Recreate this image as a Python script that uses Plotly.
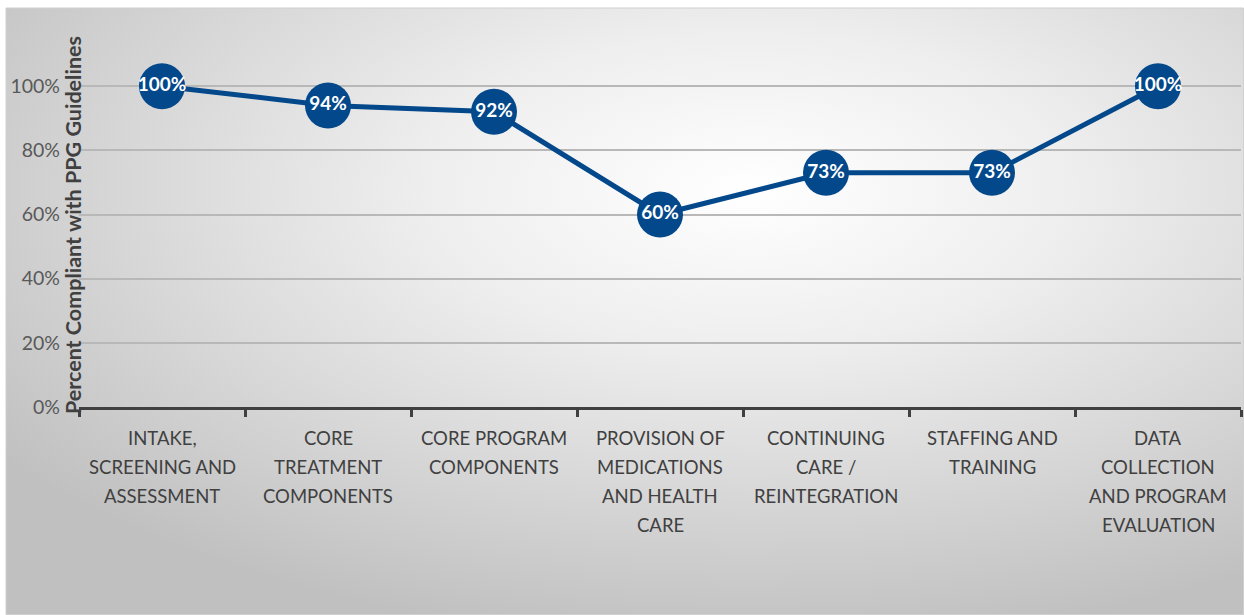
import plotly.graph_objects as go
import base64

categories = [
    "INTAKE,<br>SCREENING AND<br>ASSESSMENT",
    "CORE<br>TREATMENT<br>COMPONENTS",
    "CORE PROGRAM<br>COMPONENTS",
    "PROVISION OF<br>MEDICATIONS<br>AND HEALTH<br>CARE",
    "CONTINUING<br>CARE /<br>REINTEGRATION",
    "STAFFING AND<br>TRAINING",
    "DATA<br>COLLECTION<br>AND PROGRAM<br>EVALUATION",
]
values = [1.00, 0.94, 0.92, 0.60, 0.73, 0.73, 1.00]
value_labels = ["100%", "94%", "92%", "60%", "73%", "73%", "100%"]
y_tickvals = [0, 0.2, 0.4, 0.6, 0.8, 1.0]
y_ticktext = ["0%", "20%", "40%", "60%", "80%", "100%"]
y_title = "Percent Compliant with PPG Guidelines"

W, H = 1244, 615
L, R, T, B = 79, 3, 22, 208
pw, ph = W - L - R, H - T - B

BLUE = "#03488b"
TXT = "#404040"
FONT = "Lato"

svg = (
    '<svg xmlns="http://www.w3.org/2000/svg" width="1238" height="607" preserveAspectRatio="none" viewBox="0 0 1238 607">'
    '<defs><radialGradient id="g" cx="0.6" cy="0.3" r="0.75" gradientUnits="objectBoundingBox">'
    '<stop offset="0" stop-color="#ffffff"/>'
    '<stop offset="0.35" stop-color="#eeeeee"/>'
    '<stop offset="1" stop-color="#c0c0c0"/>'
    '</radialGradient></defs>'
    '<rect x="0" y="0" width="1238" height="607" fill="url(#g)"/>'
    '</svg>'
)
svg_uri = "data:image/svg+xml;base64," + base64.b64encode(svg.encode()).decode()

xs = list(range(len(categories)))

fig = go.Figure()
fig.add_trace(go.Scatter(
    x=xs, y=values, mode="lines+markers+text",
    line=dict(color=BLUE, width=5),
    marker=dict(size=46, color=BLUE),
    text=value_labels, textposition="middle center",
    textfont=dict(family=FONT, size=19, color="white", weight="bold"),
    cliponaxis=False, hoverinfo="skip",
))

annotations = []
for i, cat in enumerate(categories):
    for j, line in enumerate(cat.split("<br>")):
        annotations.append(dict(
            x=i, xref="x", y=(H - B - (438 + 29 * j)) / ph,
            yref="paper", text=line, showarrow=False,
            xanchor="center", yanchor="middle",
            font=dict(family=FONT, size=18.5, color=TXT),
        ))
annotations.append(dict(
    x=(73 - L) / pw, xref="paper", y=(H - B - 225) / ph, yref="paper",
    text="<b>" + y_title + "</b>", textangle=-90, showarrow=False,
    xanchor="center", yanchor="middle",
    font=dict(family=FONT, size=21.5, color=TXT),
))

fig.update_layout(
    width=W, height=H,
    margin=dict(l=L, r=R, t=T, b=B),
    paper_bgcolor="white", plot_bgcolor="rgba(0,0,0,0)",
    showlegend=False,
    annotations=annotations,
    images=[dict(
        source=svg_uri, xref="paper", yref="paper",
        x=(6 - L) / pw, y=(H - B - 8) / ph,
        sizex=1238 / pw, sizey=607 / ph,
        xanchor="left", yanchor="top", sizing="stretch", layer="below",
    )],
    shapes=[dict(
        type="rect", xref="paper", yref="paper",
        x0=(6 - L) / pw, x1=(1243.5 - L) / pw,
        y0=(H - B - 614.5) / ph, y1=(H - B - 8) / ph,
        line=dict(color="#d0d0d0", width=1), layer="below",
    )],
    xaxis=dict(
        range=[-0.5, len(categories) - 0.5],
        tickvals=[i - 0.5 for i in range(len(categories) + 1)],
        showticklabels=False,
        ticks="outside", ticklen=7, tickwidth=3, tickcolor=TXT,
        showgrid=False, zeroline=False,
        showline=True, linecolor=TXT, linewidth=3,
    ),
    yaxis=dict(
        range=[0, 1.2],
        tickvals=y_tickvals, ticktext=y_ticktext,
        tickfont=dict(family=FONT, size=19.5, color="#595959"),
        ticks="", ticklabelstandoff=18,
        showgrid=True, gridcolor="#b8b8b8", gridwidth=1.5,
        zeroline=False, showline=False,
    ),
)

fig.write_html("out.html")
